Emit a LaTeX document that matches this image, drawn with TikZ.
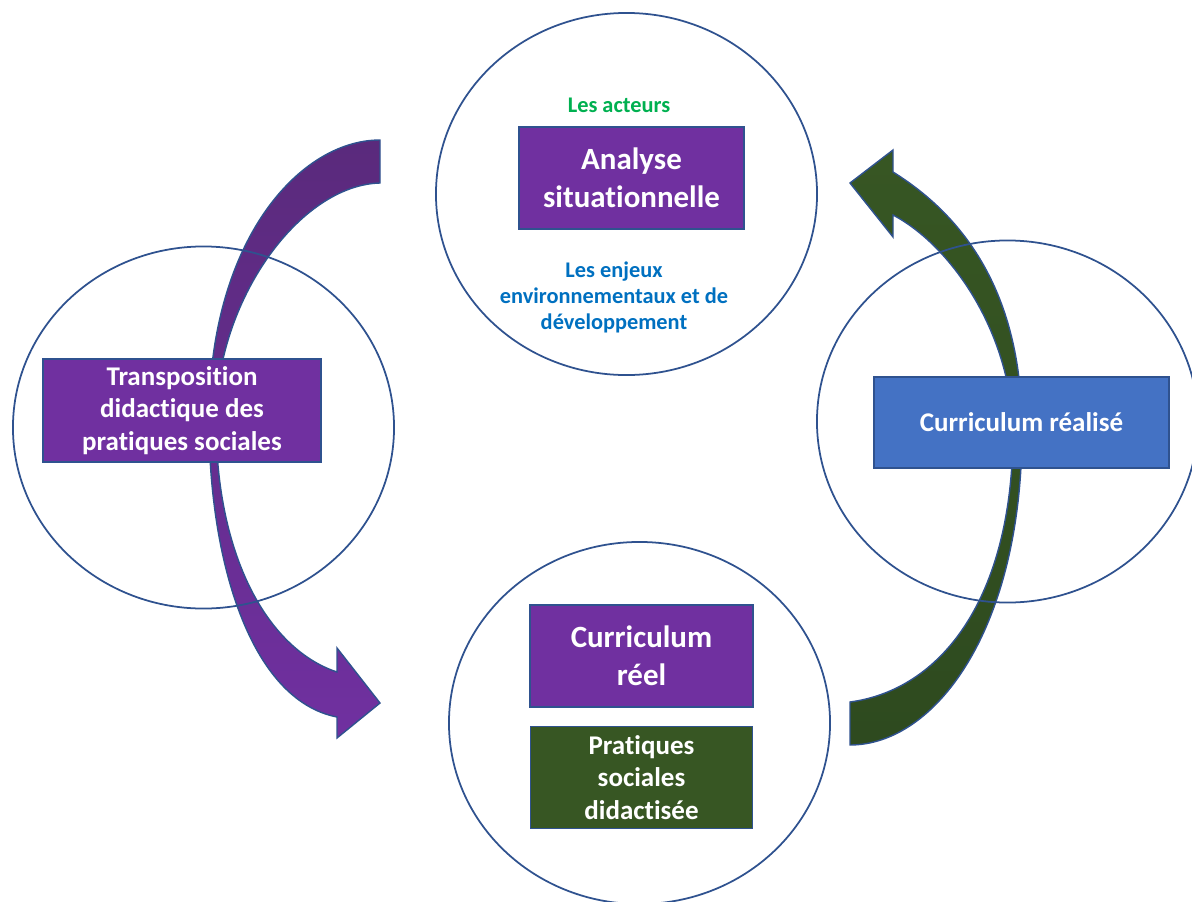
\documentclass[tikz,border=0pt]{standalone}
\usepackage{fontspec}
\setmainfont[RawFeature={-liga;-clig;-calt}]{Carlito}
\usetikzlibrary{shapes.geometric,positioning}

\definecolor{contour}{HTML}{2F528F}
\definecolor{boiteviolet}{HTML}{7030A0}
\definecolor{boitevert}{HTML}{375623}
\definecolor{boitebleu}{HTML}{4472C4}
\definecolor{violetfonce}{HTML}{5A2A7C}
\definecolor{vertfonce}{HTML}{2E4A1F}
\definecolor{texteacteurs}{HTML}{00B050}
\definecolor{texteenjeux}{HTML}{0070C0}

\tikzset{
  cercle/.style={ellipse, draw=contour, line width=1.25pt, inner sep=0pt,
    minimum width=9.525cm, minimum height=9.05cm},
  boite/.style={rectangle, draw=contour, line width=1pt, inner sep=0pt,
    text=white, align=center},
  grand/.style={font=\bfseries\fontsize{22}{27}\selectfont},
  moyen/.style={font=\bfseries\fontsize{19.2}{23}\selectfont},
  petit/.style={font=\bfseries\fontsize{15.9}{18.5}\selectfont, align=center},
  fleche/.style={draw=contour, line width=1pt}
}

\begin{document}
\begin{tikzpicture}[x=0.025cm, y=-0.025cm]
\useasboundingbox (0,0) rectangle (1192,902);

% left arrow (purple)
\path[fleche, top color=violetfonce, bottom color=boiteviolet]
  (380,140) .. controls (300,140) and (209,240) .. (209,420)
  .. controls (209,560) and (250,700) .. (337,717)
  -- (337,738) -- (380,703) -- (337,648) -- (337,672)
  .. controls (270,650) and (216,560) .. (216,420)
  .. controls (216,300) and (300,185) .. (380,183) -- cycle;

% right arrow (green)
\path[fleche, top color=boitevert, bottom color=vertfonce]
  (850,702) -- (850,745) .. controls (935,745) and (1022,630) .. (1022,430)
  .. controls (1022,300) and (970,220) .. (893,172)
  -- (893,150) -- (850,183) -- (893,237) -- (893,215)
  .. controls (950,245) and (1010,330) .. (1013,430)
  .. controls (1013,600) and (940,690) .. (850,702) -- cycle;

% circles
\node[cercle] (c_haut) at (626.5,194) {};
\node[cercle] (c_gauche) at (203.5,427.5) {};
\node[cercle] (c_droite) at (1007.5,421.5) {};
\node[cercle] (c_bas) at (639.5,723) {};

% top circle
\node[petit, text=texteacteurs] (acteurs) at (619,105) {Les acteurs};
\node[boite, grand, fill=boiteviolet, minimum width=5.625cm, minimum height=2.55cm]
  (analyse) at (631.5,178) {Analyse\\situationnelle};
\node[petit, text=texteenjeux] (enjeux) at (614,297)
  {Les enjeux\\environnementaux et de\\développement};

% left circle
\node[boite, moyen, fill=boiteviolet, minimum width=6.95cm, minimum height=2.575cm]
  (transposition) at (182,410.5) {Transposition\\didactique des\\pratiques sociales};

% right circle
\node[boite, moyen, fill=boitebleu, minimum width=7.375cm, minimum height=2.275cm]
  (realise) at (1021.5,422.5) {Curriculum réalisé};

% bottom circle
\node[boite, grand, fill=boiteviolet, minimum width=5.575cm, minimum height=2.55cm]
  (reel) at (641.5,656) {Curriculum\\réel};
\node[boite, moyen, fill=boitevert, minimum width=5.55cm, minimum height=2.55cm,
  below=0.45cm of reel] (pratiques) {Pratiques\\sociales\\didactisée};

\end{tikzpicture}
\end{document}
